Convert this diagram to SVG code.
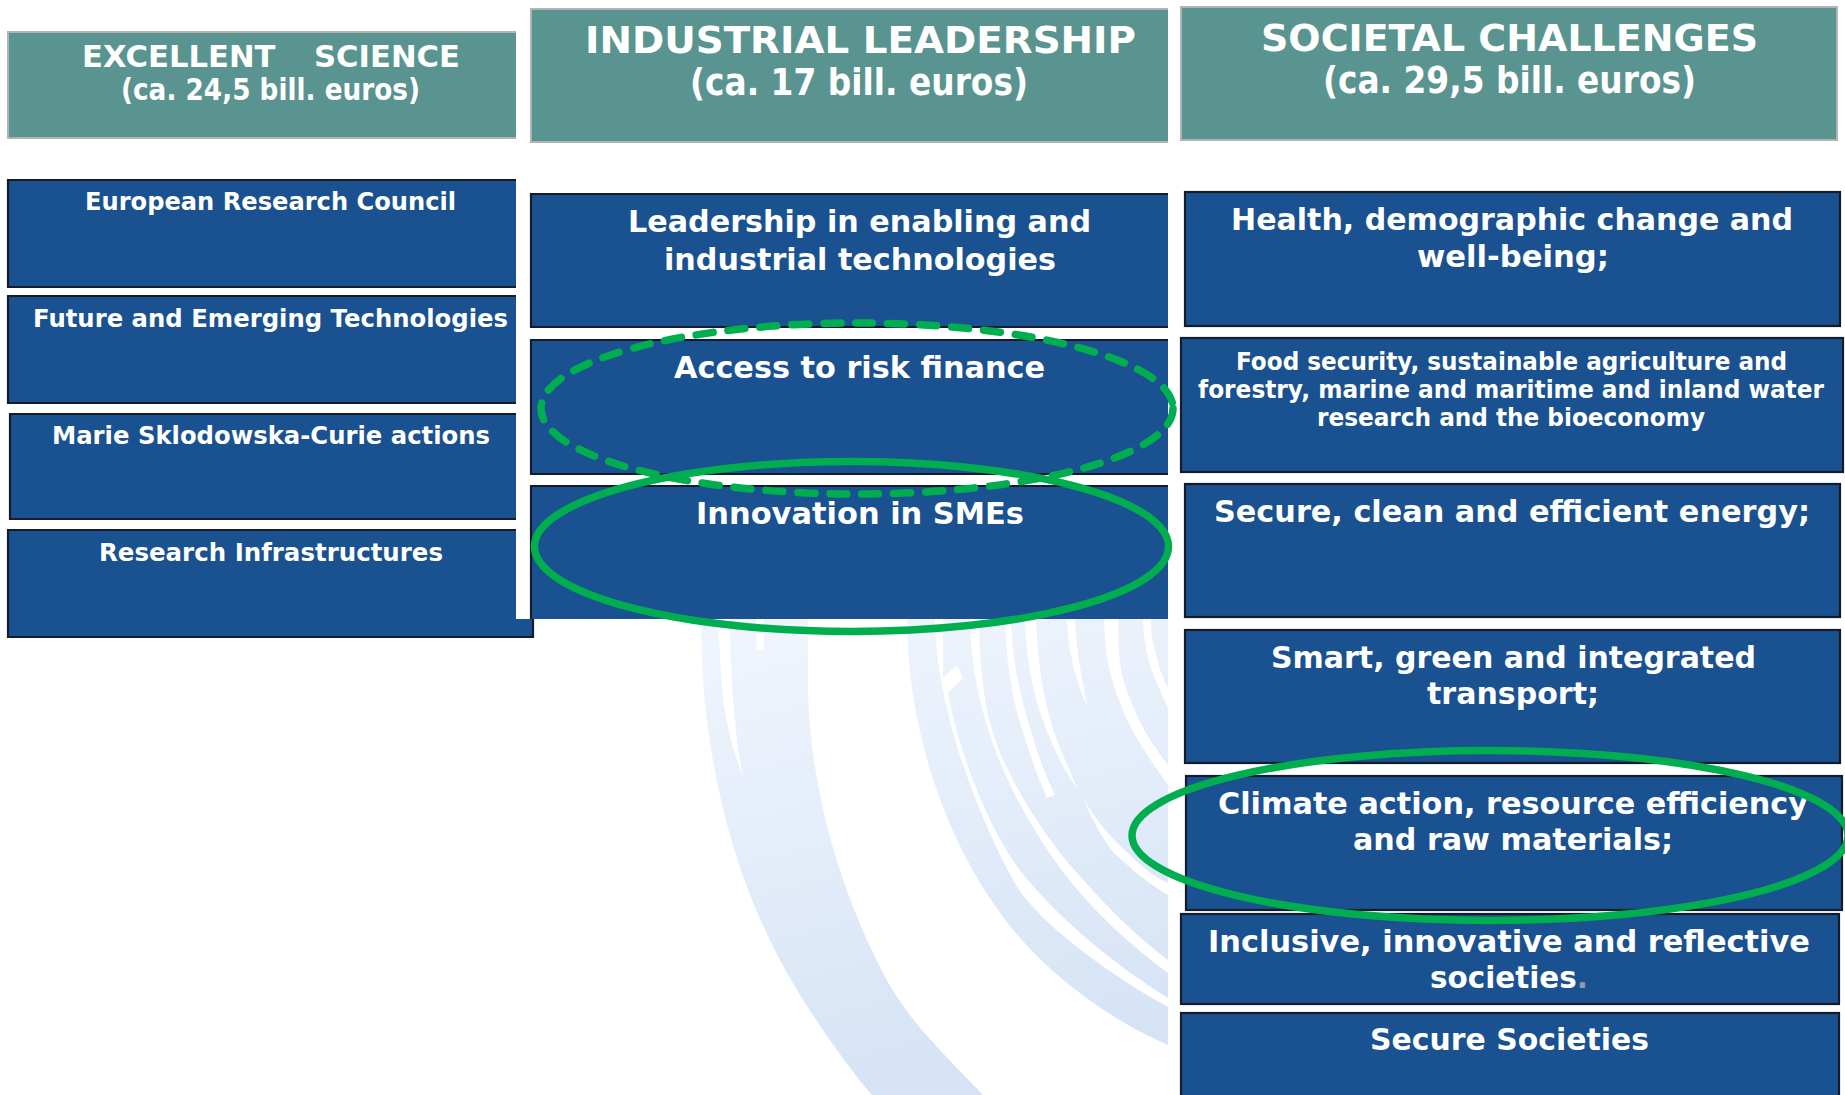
<svg xmlns="http://www.w3.org/2000/svg" width="1845" height="1095" viewBox="0 0 1845 1095">
<style>
.t{font-family:"DejaVu Sans","Liberation Sans",sans-serif;font-weight:700;fill:#fff}
.sub{stroke:none}
.h{font-size:38px}.hs{font-size:30px}.m{font-size:29.5px}.s{font-size:25px}.f{font-size:24px}
.teal{fill:#5a9490;stroke:#b0b4b4;stroke-width:2}
.blue{fill:#1a5190}
.edge{fill:none;stroke:#141c2c;stroke-width:2.2}
.ring{fill:none;stroke:#00ae4f;stroke-width:7.5}
.dash{stroke-dasharray:17 15;stroke-linecap:round}
.gap{fill:#fff}
</style>
<defs>
<linearGradient id="fade" gradientUnits="userSpaceOnUse" x1="780" y1="619" x2="900" y2="1095">
<stop offset="0" stop-color="#f0f5fd"/><stop offset="1" stop-color="#d5e3f5"/>
</linearGradient>
</defs>
<rect width="1845" height="1095" fill="#fff"/>
<g id="background">
<path fill="url(#fade)" d="M701 619C701 700 712 850 797 990C815 1020 850 1070 872 1095H983C945 1055 907 1020 883 973C835 880 810 780 808 690V619Z"/>
<path fill="url(#fade)" d="M907 619C907 720 940 830 1000 913C1040 968 1100 1015 1168 1045V619Z"/>
<path class="gap" d="M718 619C719 650 722 680 723 698C727 730 735 755 743 778C738 750 735 725 733 698C731 670 730 645 730 619Z"/>
<path class="gap" d="M756 619H764V650H757Z"/>
<path class="gap" d="M935 619C936 700 970 800 1013 880C1035 921 1110 975 1168 1007V998C1115 965 1060 920 1022 873C994 838 960 760 948 693L963 678L957 665L943 678V619Z"/>
<path class="gap" d="M970 619C971 700 1000 790 1067 877C1095 913 1130 945 1168 973V960C1135 935 1110 910 1077 873C1045 838 1000 770 988 715C982 685 979 655 979 619Z"/>
<path class="gap" d="M1005 619C1006 660 1012 700 1023 732C1030 755 1038 778 1047 798L1055 795C1045 775 1037 752 1030 728C1020 695 1012 660 1011 619Z"/>
<path class="gap" d="M1025 619C1026 650 1029 665 1032 682C1037 705 1043 722 1050 738C1058 758 1067 775 1077 788C1072 775 1065 760 1060 748C1052 728 1047 710 1043 688C1040 670 1037 650 1036 619Z"/>
<path class="gap" d="M1083 798C1092 815 1110 838 1130 855C1143 868 1155 877 1168 883V895C1150 885 1130 868 1113 852C1100 835 1090 815 1083 798Z"/>
<path class="gap" d="M1067 619C1068 650 1075 680 1088 708C1082 680 1076 650 1075 619Z"/>
<path class="gap" d="M1104 619C1105 650 1108 665 1113 682C1120 705 1127 720 1133 732C1145 752 1157 770 1168 785V765C1158 752 1148 738 1140 722C1132 705 1126 690 1122 675C1119 660 1118 640 1118 619Z"/>
<path class="gap" d="M1143 619C1144 640 1146 650 1150 665C1155 680 1162 695 1168 708V688C1163 678 1159 668 1157 658C1153 645 1151 635 1151 619Z"/>
</g>

<g id="header-excellent"><path class="teal" d="M516 32H8V138H516"/>
<text class="t hs" x="82" y="67" textLength="378" lengthAdjust="spacingAndGlyphs" style="white-space:pre;word-spacing:-1px">EXCELLENT    SCIENCE</text>
<text class="t sub hs" x="121" y="100" textLength="299" lengthAdjust="spacingAndGlyphs">(ca. 24,5 bill. euros)</text></g>
<g id="header-industrial"><path class="teal" d="M1168 9H531V142H1168"/>
<text class="t h" x="585" y="53" textLength="551" lengthAdjust="spacingAndGlyphs">INDUSTRIAL LEADERSHIP</text>
<text class="t sub h" x="690" y="95" textLength="338" lengthAdjust="spacingAndGlyphs">(ca. 17 bill. euros)</text></g>
<g id="header-societal"><rect class="teal" x="1181" y="7" width="656" height="133"/>
<text class="t h" x="1261" y="51" textLength="497" lengthAdjust="spacingAndGlyphs">SOCIETAL CHALLENGES</text>
<text class="t sub h" x="1323" y="93" textLength="373" lengthAdjust="spacingAndGlyphs">(ca. 29,5 bill. euros)</text></g>

<g id="erc"><path class="blue" d="M516 180H8V287H516Z"/><path class="edge" d="M516 180H8V287H516"/>
<text class="t s" x="85" y="210" textLength="371" lengthAdjust="spacingAndGlyphs">European Research Council</text></g>
<g id="fet"><path class="blue" d="M516 296H8V403H516Z"/><path class="edge" d="M516 296H8V403H516"/>
<text class="t s" x="33" y="327" textLength="475" lengthAdjust="spacingAndGlyphs">Future and Emerging Technologies</text></g>
<g id="msca"><path class="blue" d="M516 414H10V519H516Z"/><path class="edge" d="M516 414H10V519H516"/>
<text class="t s" x="52" y="444" textLength="438" lengthAdjust="spacingAndGlyphs">Marie Sklodowska-Curie actions</text></g>
<g id="infrastructures"><path class="blue" d="M516 530H8V637H533V619H516Z"/><path class="edge" d="M516 530H8V637H533V619"/>
<text class="t s" x="99" y="561" textLength="344" lengthAdjust="spacingAndGlyphs">Research Infrastructures</text></g>

<g id="leadership"><path class="blue" d="M1168 194H531V327H1168Z"/><path class="edge" d="M1168 194H531V327H1168"/>
<text class="t m" x="628" y="232" textLength="463" lengthAdjust="spacingAndGlyphs">Leadership in enabling and</text>
<text class="t m" x="664" y="270" textLength="392" lengthAdjust="spacingAndGlyphs">industrial technologies</text></g>
<g id="risk-finance"><path class="blue" d="M1168 340H531V474H1168Z"/><path class="edge" d="M1168 340H531V474H1168"/>
<text class="t m" x="674" y="378" textLength="371" lengthAdjust="spacingAndGlyphs">Access to risk finance</text></g>
<g id="smes"><path class="blue" d="M1168 486H531V619H1168Z"/><path class="edge" d="M1168 486H531V619"/>
<text class="t m" x="696" y="524" textLength="328" lengthAdjust="spacingAndGlyphs">Innovation in SMEs</text></g>

<g id="health"><rect class="blue" x="1185" y="192" width="655" height="134"/><rect class="edge" x="1185" y="192" width="655" height="134"/>
<text class="t m" x="1231" y="230" textLength="562" lengthAdjust="spacingAndGlyphs">Health, demographic change and</text>
<text class="t m" x="1417" y="267" textLength="192" lengthAdjust="spacingAndGlyphs">well-being;</text></g>
<g id="food"><rect class="blue" x="1181" y="338" width="662" height="134"/><rect class="edge" x="1181" y="338" width="662" height="134"/>
<text class="t f" x="1236" y="370" textLength="551" lengthAdjust="spacingAndGlyphs">Food security, sustainable agriculture and</text>
<text class="t f" x="1198" y="398" textLength="626" lengthAdjust="spacingAndGlyphs">forestry, marine and maritime and inland water</text>
<text class="t f" x="1317" y="426" textLength="388" lengthAdjust="spacingAndGlyphs">research and the bioeconomy</text></g>
<g id="energy"><rect class="blue" x="1185" y="484" width="655" height="133"/><rect class="edge" x="1185" y="484" width="655" height="133"/>
<text class="t m" x="1214" y="522" textLength="596" lengthAdjust="spacingAndGlyphs">Secure, clean and efficient energy;</text></g>
<g id="transport"><rect class="blue" x="1185" y="630" width="655" height="133"/><rect class="edge" x="1185" y="630" width="655" height="133"/>
<text class="t m" x="1271" y="668" textLength="485" lengthAdjust="spacingAndGlyphs">Smart, green and integrated</text>
<text class="t m" x="1427" y="704" textLength="172" lengthAdjust="spacingAndGlyphs">transport;</text></g>
<g id="climate"><rect class="blue" x="1186" y="776" width="656" height="134"/><rect class="edge" x="1186" y="776" width="656" height="134"/>
<text class="t m" x="1218" y="814" textLength="590" lengthAdjust="spacingAndGlyphs">Climate action, resource efficiency</text>
<text class="t m" x="1353" y="850" textLength="320" lengthAdjust="spacingAndGlyphs">and raw materials;</text></g>
<g id="inclusive"><rect class="blue" x="1181" y="914" width="658" height="90"/><rect class="edge" x="1181" y="914" width="658" height="90"/>
<text class="t m" x="1208" y="952" textLength="602" lengthAdjust="spacingAndGlyphs">Inclusive, innovative and reflective</text>
<text class="t m" x="1430" y="988" textLength="158" lengthAdjust="spacingAndGlyphs">societies<tspan fill="#8f9cab">.</tspan></text></g>
<g id="secure"><rect class="blue" x="1181" y="1013" width="658" height="100"/><rect class="edge" x="1181" y="1013" width="658" height="100"/>
<text class="t m" x="1370" y="1050" textLength="279" lengthAdjust="spacingAndGlyphs">Secure Societies</text></g>

<g id="connectors">
<ellipse class="ring dash" cx="857" cy="408.5" rx="316" ry="85.5"/>
<ellipse class="ring" cx="851.5" cy="546.5" rx="317" ry="85"/>
<ellipse class="ring" cx="1490" cy="835.5" rx="358" ry="85"/>
</g>
</svg>
